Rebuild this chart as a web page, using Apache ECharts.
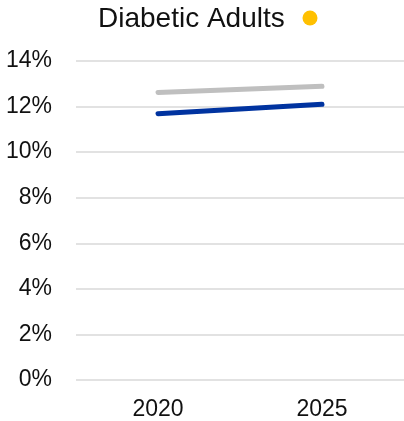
<!DOCTYPE html>
<html>
<head>
<meta charset="utf-8">
<script src="https://cdn.jsdelivr.net/npm/echarts@6/dist/echarts.min.js"></script>
<style>
  html, body { margin: 0; padding: 0; background: #fff; }
  #main { width: 404px; height: 421px; }
</style>
</head>
<body>
<div id="main"></div>
<script>
const years = ['2020', '2025'];
const grayValues = [12.62, 12.89];
const blueValues = [11.69, 12.1];
const yTicks = [0, 2, 4, 6, 8, 10, 12, 14];

const chartDom = document.getElementById('main');
let myChart = echarts.init(chartDom);

const font = 'Liberation Sans, Arial, sans-serif';

myChart.setOption({
    animation: false,
    title: {
        text: 'Diabetic Adults',
        left: 93,
        top: 0,
        textStyle: { fontFamily: font, fontSize: 28, fontWeight: 'normal', color: '#111' }
    },
    // yellow dot next to the title
    graphic: [{
        type: 'circle',
        shape: { cx: 310, cy: 18, r: 7.5 },
        style: { fill: '#FFC000' }
    }],
    grid: { left: 76, right: 0, top: 61, bottom: 41 },
    xAxis: {
        type: 'category',
        data: years,
        boundaryGap: true,
        axisLine: { show: false },
        axisTick: { show: false },
        axisLabel: { fontFamily: font, fontSize: 23, color: '#111', margin: 18 }
    },
    yAxis: {
        type: 'value',
        min: yTicks[0],
        max: yTicks[yTicks.length - 1],
        interval: 2,
        axisLine: { show: false },
        axisTick: { show: false },
        splitLine: { lineStyle: { color: '#d9d9d9', width: 1.5 } },
        axisLabel: {
            fontFamily: font, fontSize: 23, color: '#111', margin: 24,
            formatter: (v) => v + '%'
        }
    },
    series: [
        {
            type: 'line',
            data: grayValues,
            symbol: 'none',
            lineStyle: { color: '#BFBFBF', width: 5, cap: 'round' }
        },
        {
            type: 'line',
            data: blueValues,
            symbol: 'none',
            lineStyle: { color: '#0033A0', width: 5, cap: 'round' }
        }
    ]
});

window.addEventListener('resize', () => {
    myChart.resize();
});
</script>
</body>
</html>
